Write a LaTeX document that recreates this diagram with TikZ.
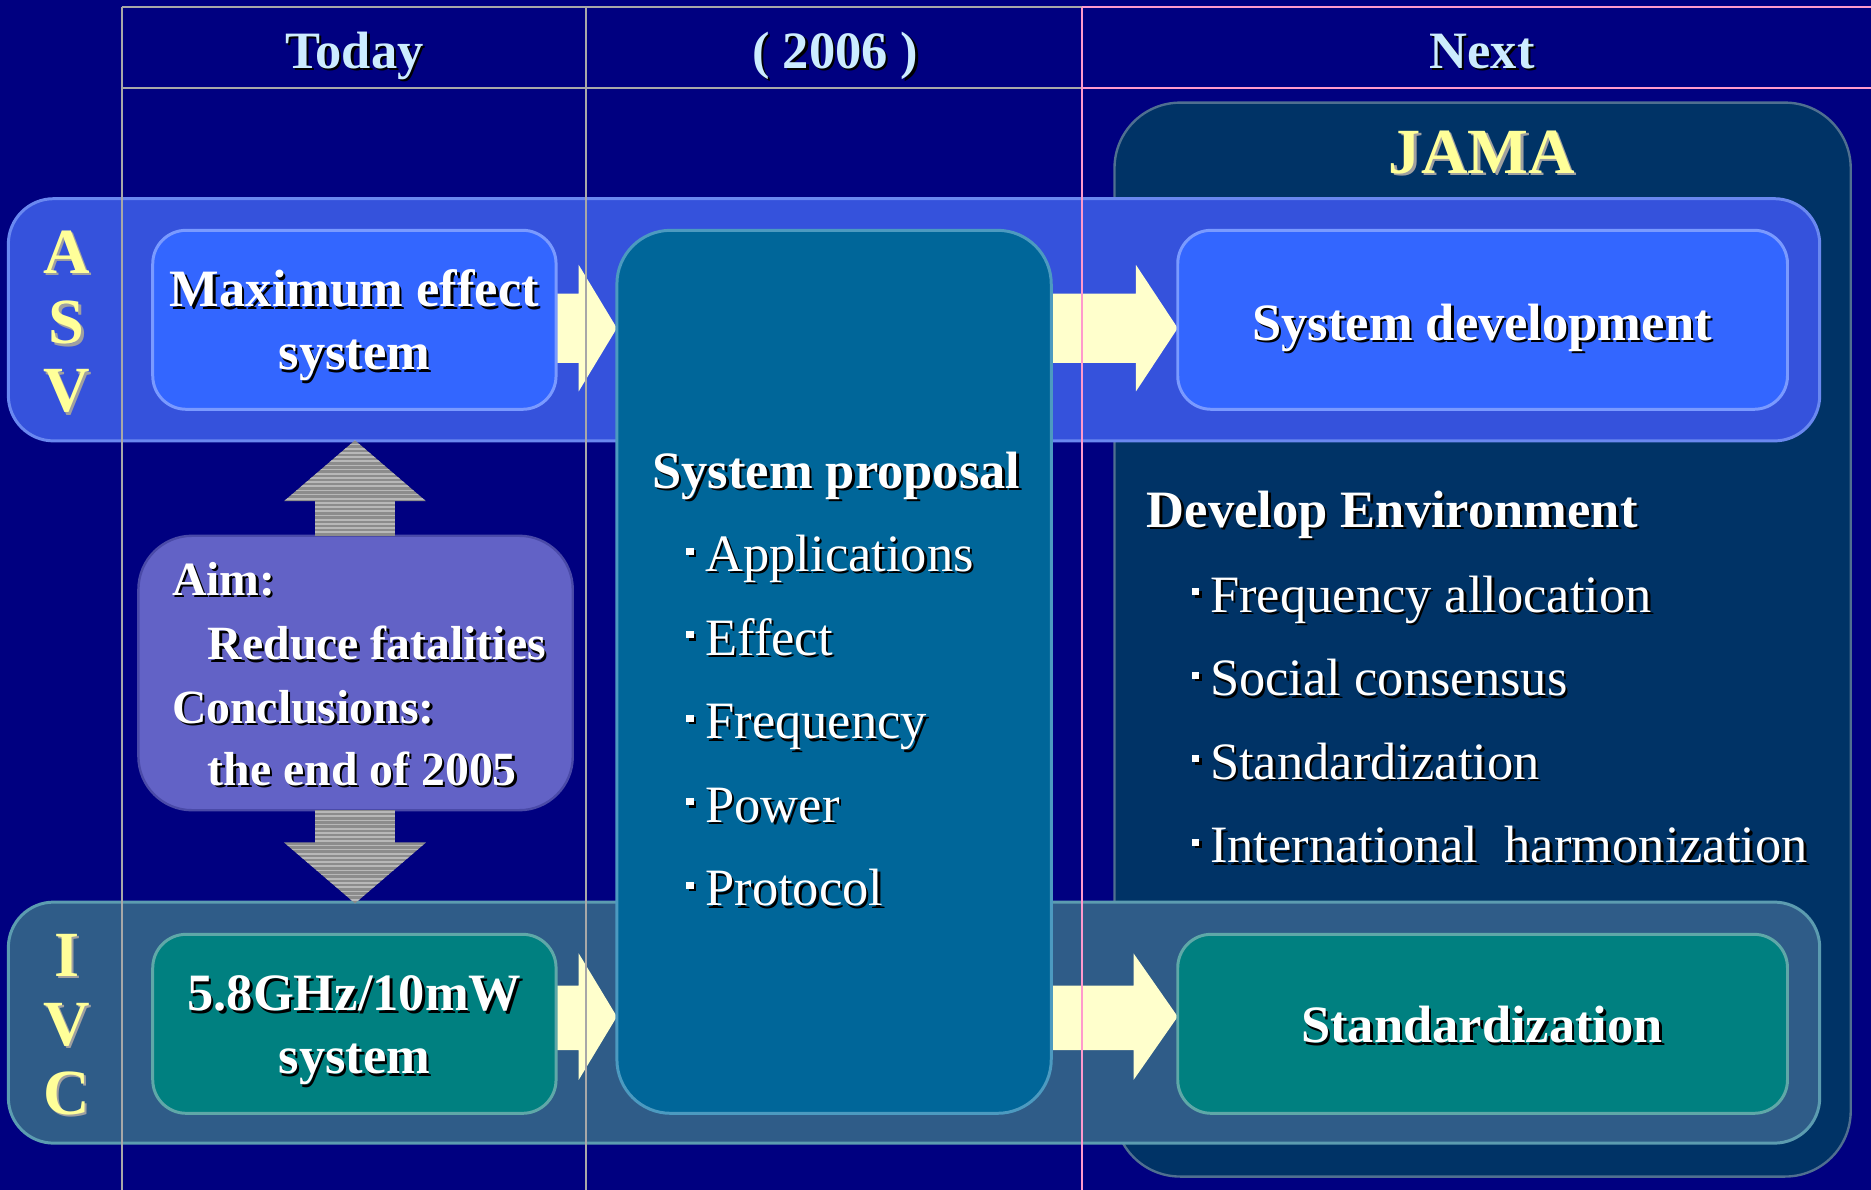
\documentclass[tikz,border=0pt]{standalone}
\usepackage{fontspec}
\setmainfont{Liberation Serif}
\usetikzlibrary{calc}
\definecolor{bg}{HTML}{000080}
\definecolor{jamafill}{HTML}{003366}
\definecolor{jamaedge}{HTML}{4F6F90}
\definecolor{asvfill}{HTML}{3552DC}
\definecolor{asvedge}{HTML}{6A88F0}
\definecolor{ivcfill}{HTML}{2F5C88}
\definecolor{ivcedge}{HTML}{5C9CB0}
\definecolor{bluefill}{HTML}{3366FF}
\definecolor{blueedge}{HTML}{7A9AFF}
\definecolor{tealfill}{HTML}{008080}
\definecolor{tealedge}{HTML}{5FA8A8}
\definecolor{propfill}{HTML}{006699}
\definecolor{propedge}{HTML}{4C9AC0}
\definecolor{aimfill}{HTML}{6262C6}
\definecolor{aimedge}{HTML}{4A4AA8}
\definecolor{arrowyellow}{HTML}{FFFFCC}
\definecolor{greyarrow}{HTML}{8C8C8C}
\definecolor{greystripe}{HTML}{B8B8B8}
\definecolor{gridgrey}{HTML}{A8A8A8}
\definecolor{gridpink}{HTML}{FF99CC}
\definecolor{hdrblue}{HTML}{CCECFF}
\definecolor{lettery}{HTML}{FFFF99}
\definecolor{lettershadow}{HTML}{A0A0A0}
\newcommand\shtxt[3]{\leavevmode\rlap{\kern2pt\raisebox{-2pt}{\textcolor{#2}{#3}}}\textcolor{#1}{#3}}
\newcommand\wtxt[1]{\shtxt{white}{black}{#1}}
\newcommand\bullA{\rule[14pt]{6pt}{6pt}\hspace{10pt}}
\newcommand\bullB{\rule[14pt]{6pt}{6pt}\hspace{9pt}}
\newcommand\fbig{\fontsize{44}{52}\selectfont\bfseries}
\newcommand\freg{\fontsize{44}{52}\selectfont}
\newcommand\faim{\fontsize{40}{48}\selectfont\bfseries}
\newcommand\fjama{\fontsize{54}{60}\selectfont\bfseries}
\tikzset{
  txt/.style={inner sep=0pt, anchor=base},
  txtw/.style={inner sep=0pt, anchor=base west},
  band/.style={line width=2.5pt, rounded corners=38pt},
  bluebox/.style={draw=blueedge, fill=bluefill, line width=2.5pt, rounded corners=28pt, inner sep=0pt},
  tealbox/.style={draw=tealedge, fill=tealfill, line width=2.5pt, rounded corners=28pt, inner sep=0pt},
  yarrow/.style={fill=arrowyellow},
  gridg/.style={draw=gridgrey, line width=1.8pt},
  gridp/.style={draw=gridpink, line width=1.8pt},
}
\begin{document}
\begin{tikzpicture}[x=1pt,y=-1pt]
\useasboundingbox (0,0) rectangle (1568,997);
\fill[bg] (0,0) rectangle (1568,997);

% JAMA box
\node[draw=jamaedge, fill=jamafill, line width=2pt, rounded corners=55pt, inner sep=0pt,
      minimum width=617pt, minimum height=900pt] (jama) at (1242.5,536) {};

% bands
\node[band, draw=asvedge, fill=asvfill, inner sep=0pt, minimum width=1518pt, minimum height=203pt] (asv) at (766,268) {};
\node[band, draw=ivcedge, fill=ivcfill, inner sep=0pt, minimum width=1518pt, minimum height=202pt] (ivc) at (766,857) {};

% yellow arrows
\path[yarrow] (460,246) -- (485,246) -- (485,222) -- (517,275) -- (485,328) -- (485,304) -- (460,304) -- cycle;
\path[yarrow] (874,246) -- (952,246) -- (952,222) -- (987,275) -- (952,328) -- (952,304) -- (874,304) -- cycle;
\path[yarrow] (460,826) -- (485,826) -- (485,799) -- (517,852) -- (485,905) -- (485,880) -- (460,880) -- cycle;
\path[yarrow] (874,826) -- (950,826) -- (950,799) -- (987,852) -- (950,905) -- (950,880) -- (874,880) -- cycle;

% boxes
\node[bluebox, minimum width=338pt, minimum height=150pt] (maxe) at (297,268) {};
\node[tealbox, minimum width=338pt, minimum height=150pt] (ghz) at (297,858) {};
\node[bluebox, minimum width=511pt, minimum height=150pt] (sysdev) at (1242.5,268) {};
\node[tealbox, minimum width=511pt, minimum height=150pt] (std) at (1242.5,858) {};
\node[draw=propedge, fill=propfill, line width=2.5pt, rounded corners=45pt, inner sep=0pt,
      minimum width=364pt, minimum height=740pt] (prop) at (699,563) {};
\node[draw=aimedge, fill=aimfill, line width=2pt, rounded corners=45pt, inner sep=0pt,
      minimum width=364pt, minimum height=230pt] (aim) at (298,564) {};

% grey arrows
\begin{scope}
\clip (264,449) -- (264,420) -- (238,420) -- (297.5,369) -- (357,420) -- (331,420) -- (331,449) -- cycle
      (264,679) -- (264,706) -- (238,706) -- (297.5,757) -- (357,706) -- (331,706) -- (331,679) -- cycle;
\fill[greyarrow] (230,360) rectangle (365,760);
\foreach \yy in {369,372.5,...,760} \draw[greystripe, line width=1.4pt] (230,\yy) -- (365,\yy);
\end{scope}

% grid lines
\draw[gridg] (102,5.6) -- (907,5.6);
\draw[gridg] (102,73.5) -- (907,73.5);
\draw[gridg] (102,5.6) -- (102,997);
\draw[gridg] (491,5.6) -- (491,997);
\draw[gridp] (907,5.6) -- (1568,5.6);
\draw[gridp] (907,73.5) -- (1568,73.5);
\draw[gridp] (907,5.6) -- (907,997);

% headers
\node[txt, font=\fbig] (hToday) at (297,57) {\shtxt{hdrblue}{black}{Today}};
\node[txt, font=\fbig] (h2006) at (700,57) {\shtxt{hdrblue}{black}{( 2006 )}};
\node[txt, font=\fbig] (hNext) at (1242,57) {\shtxt{hdrblue}{black}{Next}};
\node[txt, font=\fjama] (jamat) at (1242,145) {\shtxt{lettery}{lettershadow}{JAMA}};

% side letters
\foreach \l/\yy [count=\i] in {A/229,S/288,V/345} \node[txt, font=\fjama] (asvl\i) at (56,\yy) {\shtxt{lettery}{lettershadow}{\l}};
\foreach \l/\yy [count=\i] in {I/818,V/876,C/934} \node[txt, font=\fjama] (ivcl\i) at (56,\yy) {\shtxt{lettery}{lettershadow}{\l}};

% box texts
\node[txt, font=\fbig] (t1) at (297,257) {\wtxt{Maximum effect}};
\node[txt, font=\fbig] (t2) at (297,310) {\wtxt{system}};
\node[txt, font=\fbig] (t3) at (297,847) {\wtxt{5.8GHz/10mW}};
\node[txt, font=\fbig] (t4) at (297,900) {\wtxt{system}};
\node[txt, font=\fbig] (t5) at (1242,285) {\wtxt{System development}};
\node[txt, font=\fbig] (t6) at (1242,874) {\wtxt{Standardization}};

% aim texts
\node[txtw, font=\faim] (a1) at (144,499) {\wtxt{Aim:}};
\node[txtw, font=\faim] (a2) at (174,553) {\wtxt{Reduce fatalities}};
\node[txtw, font=\faim] (a3) at (144,606) {\wtxt{Conclusions:}};
\node[txtw, font=\faim] (a4) at (174,658) {\wtxt{the end of 2005}};

% proposal texts
\node[txt, font=\fbig] (p0) at (701,409) {\wtxt{System proposal}};
\foreach \t/\yy [count=\i] in {Applications/479,Effect/549,Frequency/619,Power/689,Protocol/759}
  \node[txtw, font=\freg] (p\i) at (575,\yy) {\wtxt{\bullA\t}};

% develop environment
\node[txtw, font=\fbig] (d0) at (961,442) {\wtxt{Develop Environment}};
\node[txtw, font=\freg] (d1) at (999,513) {\wtxt{\bullB Frequency allocation}};
\node[txtw, font=\freg] (d2) at (999,583) {\wtxt{\bullB Social consensus}};
\node[txtw, font=\freg] (d3) at (999,653) {\wtxt{\bullB Standardization}};
\node[txtw, font=\freg] (d4) at (999,723) {\wtxt{\bullB International\ \ harmonization}};
\end{tikzpicture}
\end{document}
